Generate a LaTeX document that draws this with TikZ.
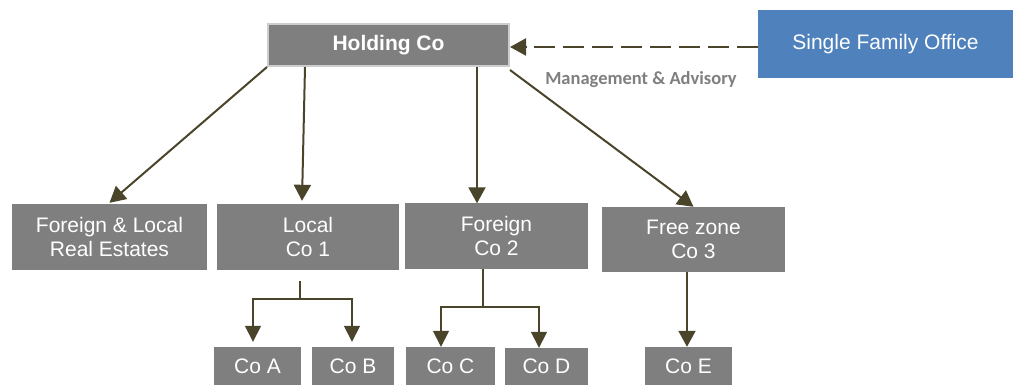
\documentclass[tikz,border=0pt]{standalone}
\usepackage{fontspec}
\setmainfont{Liberation Sans}
\newfontfamily\labelfont{Carlito}
\usetikzlibrary{arrows.meta}

\definecolor{boxgray}{RGB}{127,127,127}
\definecolor{rimgray}{RGB}{205,205,205}
\definecolor{officeblue}{RGB}{79,129,189}
\definecolor{linkolive}{RGB}{74,68,42}
\definecolor{notegray}{RGB}{127,127,127}

\tikzset{
  unit/.style={fill=boxgray, text=white, inner sep=0pt, align=center,
    font=\fontsize{21}{24}\selectfont},
  office/.style={fill=officeblue, text=white, inner sep=0pt,
    font=\fontsize{21}{24}\selectfont},
  link/.style={draw=linkolive, line width=2pt,
    -{Triangle[length=16pt,width=17pt]}},
  sublink/.style={draw=linkolive, line width=1.6pt},
  subarrow/.style={sublink, -{Triangle[length=16pt,width=16pt]}},
  advise/.style={draw=linkolive, line width=2pt, dash pattern=on 21pt off 8pt,
    -{Triangle[length=16pt,width=17pt]}},
}

\begin{document}
\begin{tikzpicture}[x=1pt,y=-1pt]
\useasboundingbox (0,0) rectangle (1013,385);

% top level
\node[unit, draw=rimgray, line width=2pt, minimum width=241pt, minimum height=42pt,
      font=\fontsize{21}{24}\selectfont\bfseries] (hold) at (388.5,45) {Holding Co};
\node[office, minimum width=255pt, minimum height=68pt] (sfo) at (885.5,44) {Single Family Office};
\node[text=notegray, font=\labelfont\fontsize{18.5}{20}\selectfont\bfseries] (note) at (641,80) {Management \& Advisory};

% second level
\node[unit, minimum width=195pt, minimum height=66pt] (re)  at (109.5,237) {Foreign \& Local\\Real Estates};
\node[unit, minimum width=182pt, minimum height=66pt] (co1) at (308,237)   {Local\\Co 1};
\node[unit, minimum width=183pt, minimum height=65pt] (co2) at (496.5,236) {Foreign\\Co 2};
\node[unit, minimum width=183pt, minimum height=65pt] (co3) at (693.5,239.5) {Free zone\\Co 3};

% third level
\node[unit, minimum width=87pt, minimum height=38pt] (coA) at (257.5,366) {Co A};
\node[unit, minimum width=82pt, minimum height=38pt] (coB) at (353,366)   {Co B};
\node[unit, minimum width=89pt, minimum height=38pt] (coC) at (450.5,366) {Co C};
\node[unit, minimum width=83pt, minimum height=37pt] (coD) at (546.5,366.5) {Co D};
\node[unit, minimum width=87pt, minimum height=38pt] (coE) at (688.5,366) {Co E};

% advisory link
\draw[advise] ([yshift=-3pt]sfo.west) -- ([yshift=-2pt]hold.east);

% holding to subsidiaries
\draw[link] (hold.south west) -- ([yshift=1pt]re.north);
\draw[link] ([xshift=38pt]hold.south west) -- ([xshift=-6pt,yshift=3pt]co1.north);
\draw[link] ([xshift=-33pt]hold.south east) -- ([xshift=-19.5pt]co2.north);
\draw[link] ([yshift=-3pt]hold.south east) -- (co3.north);

% Co 1 branch
\coordinate (j1s) at (300,281);
\coordinate (j1) at (300,299);
\draw[sublink] (j1s) -- (j1);
\draw[subarrow] (j1) -| ([xshift=-4.5pt,yshift=5pt]coA.north);
\draw[subarrow] (j1) -| ([xshift=-1pt,yshift=5pt]coB.north);

% Co 2 branch
\coordinate (j2) at (483,307);
\draw[sublink] (co2.south -| j2) -- (j2);
\draw[subarrow] (j2) -| ([xshift=-9.5pt]coC.north);
\draw[subarrow] (j2) -| ([xshift=-7.5pt]coD.north);

% Co 3 branch
\draw[link] ([xshift=-6.5pt]co3.south) -- ([xshift=-1.5pt]coE.north);
\end{tikzpicture}
\end{document}
